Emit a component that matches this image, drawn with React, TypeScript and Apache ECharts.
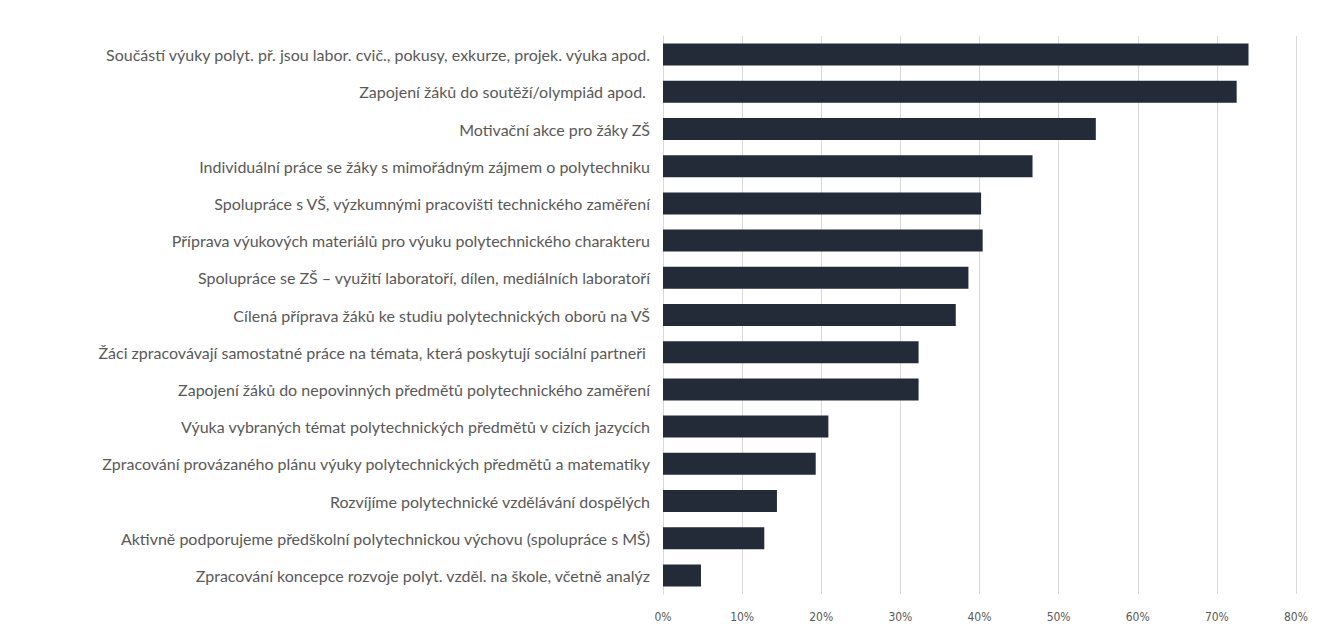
import React, { useEffect, useRef } from "react";
import * as echarts from "echarts";

const categories: string[] = [
  "Součástí výuky polyt. př. jsou labor. cvič., pokusy, exkurze, projek. výuka apod.",
  "Zapojení žáků do soutěží/olympiád apod. ",
  "Motivační akce pro žáky ZŠ",
  "Individuální práce se žáky s mimořádným zájmem o polytechniku",
  "Spolupráce s VŠ, výzkumnými pracovišti technického zaměření",
  "Příprava výukových materiálů pro výuku polytechnického charakteru",
  "Spolupráce se ZŠ – využití laboratoří, dílen, mediálních laboratoří",
  "Cílená příprava žáků ke studiu polytechnických oborů na VŠ",
  "Žáci zpracovávají samostatné práce na témata, která poskytují sociální partneři ",
  "Zapojení žáků do nepovinných předmětů polytechnického zaměření",
  "Výuka vybraných témat polytechnických předmětů v cizích jazycích",
  "Zpracování provázaného plánu výuky polytechnických předmětů a matematiky",
  "Rozvíjíme polytechnické vzdělávání dospělých",
  "Aktivně podporujeme předškolní polytechnickou výchovu (spolupráce s MŠ)",
  "Zpracování koncepce rozvoje polyt. vzděl. na škole, včetně analýz",
];

const values: number[] = [
  0.740, 0.725, 0.547, 0.467, 0.402, 0.404, 0.386, 0.370, 0.323, 0.323, 0.209, 0.193, 0.144, 0.128, 0.048,
];

const xTicks = { min: 0, max: 0.8, interval: 0.1 };

export default function App() {
  const ref = useRef<HTMLDivElement>(null);
  useEffect(() => {
    document.body.style.margin = "0";
    if (!ref.current) return;
    const chart = echarts.init(ref.current, null, { renderer: "svg" });
    chart.setOption({
      animation: false,
      backgroundColor: "#ffffff",
      grid: { left: 663, right: 28, top: 36, bottom: 34, containLabel: false },
      xAxis: {
        type: "value",
        min: xTicks.min,
        max: xTicks.max,
        interval: xTicks.interval,
        axisLine: { show: false },
        axisTick: { show: false },
        splitLine: { show: true, lineStyle: { color: "#d9d9d9", width: 1 } },
        axisLabel: {
          color: "#595959",
          fontSize: 12,
          fontFamily: "DejaVu Sans Condensed",
          margin: 17,
          formatter: (v: number) => Math.round(v * 100) + "%",
        },
      },
      yAxis: {
        type: "category",
        inverse: true,
        data: categories,
        axisLine: { show: true, lineStyle: { color: "#d9d9d9" } },
        axisTick: { show: false },
        axisLabel: {
          color: "#595959",
          fontSize: 16,
          fontFamily: "Lato",
          margin: 13,
        },
      },
      series: [
        {
          type: "bar",
          data: values,
          barWidth: 22,
          itemStyle: { color: "#232b38" },
        },
      ],
    });
    return () => chart.dispose();
  }, []);
  return <div ref={ref} style={{ width: 1324, height: 628 }} />;
}
